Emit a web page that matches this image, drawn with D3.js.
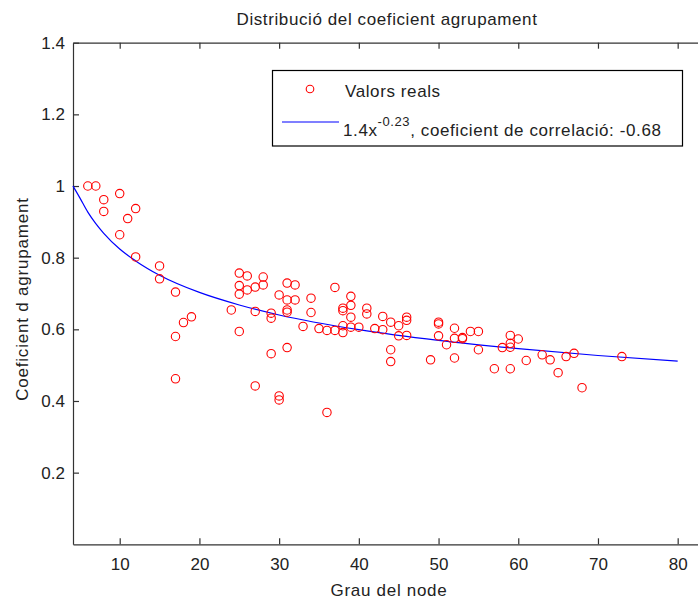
<!DOCTYPE html>
<html>
<head>
  <meta charset="utf-8">
  <title>Distribució del coeficient agrupament</title>
  <style>
    body { margin: 0; background: #fff; }
    text { font-family: "Liberation Sans", Arial, Helvetica, sans-serif; fill: #222; }
  </style>
</head>
<body>
  <div id="chart"></div>

  <script src="https://cdn.jsdelivr.net/npm/d3@7"></script>
  <script type="text/javascript">

  // grau del node (x) i coeficient d'agrupament (y), llegits del gràfic
  var grau = [6, 7, 8, 8, 10, 12, 11, 10, 12, 15, 15, 17, 19, 18, 17, 17,
              25, 26, 28, 28, 27, 25, 26, 25, 31, 32, 37, 30, 31, 32, 34, 39,
              39, 38, 38, 41, 41, 31, 31, 34, 24, 27, 29, 29, 39, 33, 35, 36,
              37, 38, 38, 39, 40, 42, 25, 31, 29, 27, 30, 30, 36, 43, 44, 46,
              46, 45, 43, 45, 46, 50, 50, 50, 52, 53, 53, 54, 55, 52, 51, 55,
              44, 44, 49, 52, 59, 60, 59, 58, 59, 57, 59, 61, 63, 64, 66, 67,
              65, 68, 73];
  var coef = [1.0, 1.0, 0.962, 0.929, 0.979, 0.937, 0.909, 0.864, 0.802, 0.777, 0.741, 0.704, 0.635, 0.619, 0.58, 0.462,
              0.757, 0.749, 0.746, 0.724, 0.718, 0.722, 0.71, 0.698, 0.729, 0.724, 0.717, 0.696, 0.682, 0.682, 0.687, 0.692,
              0.667, 0.659, 0.652, 0.659, 0.643, 0.654, 0.648, 0.647, 0.654, 0.65, 0.645, 0.631, 0.634, 0.608, 0.602, 0.597,
              0.597, 0.61, 0.591, 0.606, 0.606, 0.602, 0.594, 0.549, 0.532, 0.442, 0.414, 0.403, 0.368, 0.636, 0.62, 0.634,
              0.625, 0.61, 0.599, 0.582, 0.583, 0.62, 0.615, 0.582, 0.603, 0.577, 0.574, 0.594, 0.594, 0.575, 0.557, 0.543,
              0.543, 0.51, 0.515, 0.52, 0.583, 0.573, 0.561, 0.549, 0.55, 0.49, 0.49, 0.513, 0.529, 0.515, 0.524, 0.533,
              0.479, 0.437, 0.524];

  // corba d'ajust llegida del gràfic
  var fitX = [4.14, 5, 6, 7, 8, 10, 12, 15, 20, 25, 30, 40, 50, 60, 70, 80];
  var fitY = [1.0, 0.967, 0.927, 0.895, 0.868, 0.824, 0.791, 0.751, 0.703, 0.668, 0.640, 0.599, 0.569, 0.546, 0.527, 0.511];

  var xTicks = [10, 20, 30, 40, 50, 60, 70, 80];
  var yTicks = [0.2, 0.4, 0.6, 0.8, 1.0, 1.2, 1.4];

  var width = 698, height = 600;
  // no "top": window.top is read-only
  var mLeft = 73, mTop = 42.7, mRight = 700, mBottom = 544.3;

  var svg = d3.select('#chart')
              .append('svg')
              .attr('width', width)
              .attr('height', height);

  var x = d3.scaleLinear().domain([4.14, 82.8]).range([mLeft, mRight]);
  var y = d3.scaleLinear().domain([0, 1.4]).range([mBottom, mTop]);

  var fmt = function(d){ return String(+d.toFixed(1)); };

  // eixos, marques cap endins com a MATLAB
  svg.append('g')
      .attr('transform', 'translate(0,' + mBottom + ')')
      .call(d3.axisBottom(x).tickValues(xTicks).tickFormat(fmt)
              .tickSizeInner(-6).tickSizeOuter(0).tickPadding(14));
  svg.append('g')
      .attr('transform', 'translate(0,' + mTop + ')')
      .call(d3.axisTop(x).tickValues(xTicks).tickFormat('')
              .tickSizeInner(-6).tickSizeOuter(0));
  svg.append('g')
      .attr('transform', 'translate(' + mLeft + ',0)')
      .call(d3.axisLeft(y).tickValues(yTicks).tickFormat(fmt)
              .tickSizeInner(-6).tickSizeOuter(0).tickPadding(8));

  svg.selectAll('.domain, .tick line')
      .attr('stroke', '#333')
      .attr('stroke-width', 1.2);
  svg.selectAll('.tick text')
      .style('font-size', '17px')
      .attr('fill', '#222');

  // corba d'ajust
  var line = d3.line()
      .x(function(d, i){ return x(fitX[i]); })
      .y(function(d, i){ return y(fitY[i]); })
      .curve(d3.curveMonotoneX);

  svg.append('path')
      .datum(fitX)
      .attr('d', line)
      .attr('fill', 'none')
      .attr('stroke', '#0000ff')
      .attr('stroke-width', 1.2);

  // punts
  svg.append('g').selectAll('circle')
      .data(grau)
      .enter().append('circle')
      .attr('cx', function(d){ return x(d); })
      .attr('cy', function(d, i){ return y(coef[i]); })
      .attr('r', 4.2)
      .attr('fill', 'none')
      .attr('stroke', '#ff0000')
      .attr('stroke-width', 1.1);

  // títol i etiquetes
  svg.append('text')
      .attr('x', 387).attr('y', 25)
      .attr('text-anchor', 'middle')
      .style('font-size', '17px')
      .style('letter-spacing', '0.6px')
      .text('Distribució del coeficient agrupament');

  svg.append('text')
      .attr('x', 389).attr('y', 596)
      .attr('text-anchor', 'middle')
      .style('font-size', '17px')
      .style('letter-spacing', '0.7px')
      .text('Grau del node');

  svg.append('text')
      .attr('transform', 'translate(28,299) rotate(-90)')
      .attr('text-anchor', 'middle')
      .style('font-size', '17px')
      .style('letter-spacing', '0.8px')
      .text('Coeficient d agrupament');

  // llegenda
  var leg = svg.append('g');
  leg.append('rect')
      .attr('x', 272.5).attr('y', 70.5)
      .attr('width', 410).attr('height', 75.5)
      .attr('fill', '#fff')
      .attr('stroke', '#000')
      .attr('stroke-width', 1.2);
  leg.append('circle')
      .attr('cx', 310).attr('cy', 89).attr('r', 3.8)
      .attr('fill', 'none').attr('stroke', '#ff0000').attr('stroke-width', 1.1);
  leg.append('text')
      .attr('x', 345).attr('y', 97)
      .style('font-size', '17px')
      .style('letter-spacing', '0.6px')
      .text('Valors reals');
  leg.append('line')
      .attr('x1', 282).attr('x2', 339)
      .attr('y1', 122).attr('y2', 122)
      .attr('stroke', '#0000ff').attr('stroke-width', 1.2);
  var t2 = leg.append('text')
      .attr('x', 343).attr('y', 136)
      .style('font-size', '17px')
      .style('letter-spacing', '0.6px');
  t2.append('tspan').text('1.4x');
  t2.append('tspan').attr('dy', -10).style('font-size', '13px').text('-0.23');
  t2.append('tspan').attr('dy', 10).text(', coeficient de correlació: -0.68');

  </script>
</body>
</html>
